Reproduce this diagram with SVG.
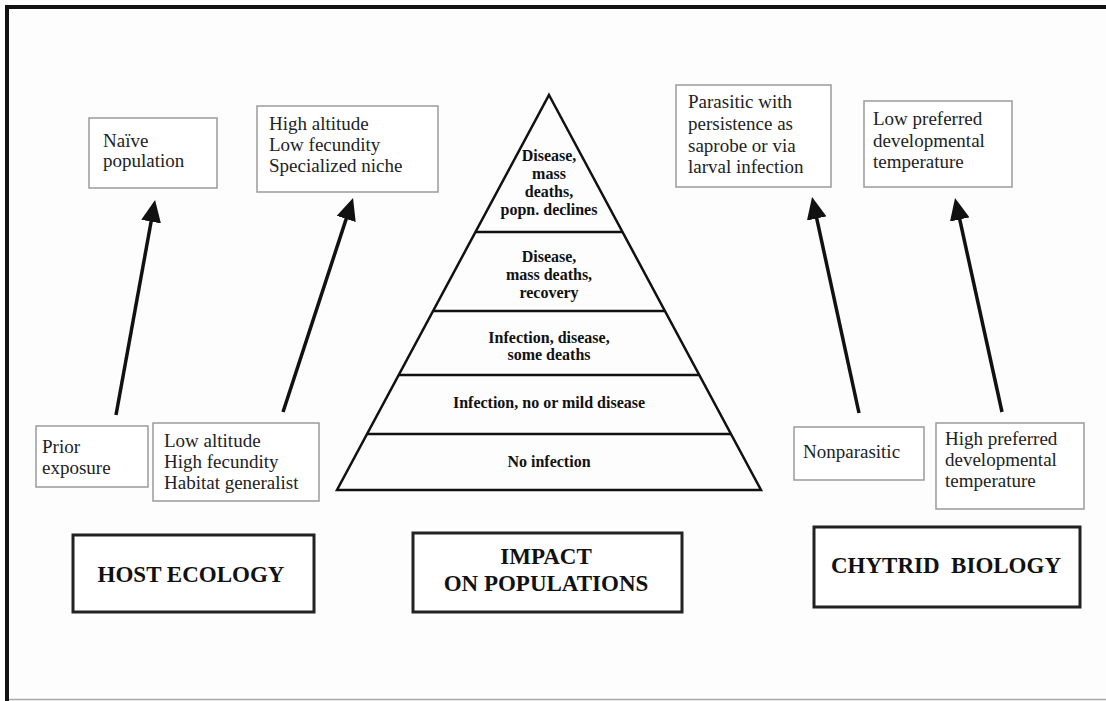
<svg xmlns="http://www.w3.org/2000/svg" width="1106" height="701" viewBox="0 0 1106 701">
<style>
.t{font-family:"Liberation Serif","Times New Roman",serif;font-size:19px;fill:#222}
.p{font-family:"Liberation Serif","Times New Roman",serif;font-size:16px;font-weight:bold;fill:#111;text-anchor:middle}
.h{font-family:"Liberation Serif","Times New Roman",serif;font-size:23px;font-weight:bold;fill:#111;text-anchor:middle}
.sb{fill:#fff;stroke:#9a9a9a;stroke-width:1.5}
.mb{fill:#fff;stroke:#222;stroke-width:3}
.ar{stroke:#111;stroke-width:3.5;fill:none;marker-end:url(#head)}
.py{fill:none;stroke:#111;stroke-width:2.5}
</style>
<defs>
<marker id="head" viewBox="0 0 22 20" refX="10" refY="10" markerWidth="22" markerHeight="20" markerUnits="userSpaceOnUse" orient="auto">
<path d="M0,0 L22,10 L0,20 z" fill="#111"/>
</marker>
</defs>
<rect x="0" y="0" width="1106" height="701" fill="#fdfdfd"/>
<g id="frame">
<rect x="5" y="5" width="1101" height="4" fill="#111"/>
<rect x="5" y="5" width="4" height="696" fill="#111"/>
<line x1="9" y1="699.5" x2="1106" y2="699.5" stroke="#aaa" stroke-width="1.5"/>
</g>
<g id="pyramid">
<path class="py" d="M549,95 L761,490 L337,490 Z"/>
<line class="py" x1="475.5" y1="232" x2="622.5" y2="232"/>
<line class="py" x1="433" y1="311" x2="665" y2="311"/>
<line class="py" x1="399" y1="375" x2="699" y2="375"/>
<line class="py" x1="367" y1="434" x2="731" y2="434"/>
<text class="p" x="549" y="161">Disease,</text>
<text class="p" x="549" y="179">mass</text>
<text class="p" x="549" y="197">deaths,</text>
<text class="p" x="549" y="215">popn. declines</text>
<text class="p" x="549" y="262">Disease,</text>
<text class="p" x="549" y="280">mass deaths,</text>
<text class="p" x="549" y="298">recovery</text>
<text class="p" x="549" y="343">Infection, disease,</text>
<text class="p" x="549" y="360">some deaths</text>
<text class="p" x="549" y="408">Infection, no or mild disease</text>
<text class="p" x="549" y="467">No infection</text>
</g>
<g id="naive">
<rect class="sb" x="89" y="118" width="128" height="70"/>
<text class="t" x="103" y="147">Naïve</text>
<text class="t" x="103" y="167">population</text>
</g>
<g id="high-altitude">
<rect class="sb" x="257" y="106" width="181" height="86"/>
<text class="t" x="269" y="130">High altitude</text>
<text class="t" x="269" y="151">Low fecundity</text>
<text class="t" x="269" y="172">Specialized niche</text>
</g>
<g id="prior">
<rect class="sb" x="36" y="426" width="112" height="61"/>
<text class="t" x="42" y="453">Prior</text>
<text class="t" x="42" y="474">exposure</text>
</g>
<g id="low-altitude">
<rect class="sb" x="153" y="423" width="166" height="78"/>
<text class="t" x="164" y="447">Low altitude</text>
<text class="t" x="164" y="468">High fecundity</text>
<text class="t" x="164" y="489">Habitat generalist</text>
</g>
<g id="parasitic">
<rect class="sb" x="676" y="85" width="155" height="102"/>
<text class="t" x="688" y="108">Parasitic with</text>
<text class="t" x="688" y="130">persistence as</text>
<text class="t" x="688" y="152">saprobe or via</text>
<text class="t" x="688" y="173">larval infection</text>
</g>
<g id="low-preferred">
<rect class="sb" x="864" y="101" width="148" height="86"/>
<text class="t" x="873" y="125">Low preferred</text>
<text class="t" x="873" y="147">developmental</text>
<text class="t" x="873" y="168">temperature</text>
</g>
<g id="nonparasitic">
<rect class="sb" x="794" y="427" width="130" height="53"/>
<text class="t" x="803" y="458">Nonparasitic</text>
</g>
<g id="high-preferred">
<rect class="sb" x="936" y="423" width="148" height="86"/>
<text class="t" x="945" y="445">High preferred</text>
<text class="t" x="945" y="466">developmental</text>
<text class="t" x="945" y="487">temperature</text>
</g>
<g id="host-ecology">
<rect class="mb" x="73" y="535" width="241" height="77"/>
<text class="h" x="191" y="582">HOST ECOLOGY</text>
</g>
<g id="impact">
<rect class="mb" x="413" y="533" width="269" height="79"/>
<text class="h" x="546" y="564">IMPACT</text>
<text class="h" x="546" y="591">ON POPULATIONS</text>
</g>
<g id="chytrid-biology">
<rect class="mb" x="814" y="527" width="266" height="80"/>
<text class="h" x="946" y="573" xml:space="preserve">CHYTRID  BIOLOGY</text>
</g>
<g id="connectors">
<line class="ar" x1="116" y1="415" x2="152.9" y2="211.8"/>
<line class="ar" x1="283" y1="412" x2="349.3" y2="209.4"/>
<line class="ar" x1="859" y1="413" x2="814.6" y2="208.7"/>
<line class="ar" x1="1002" y1="412" x2="957.6" y2="209.7"/>
</g>
</svg>
